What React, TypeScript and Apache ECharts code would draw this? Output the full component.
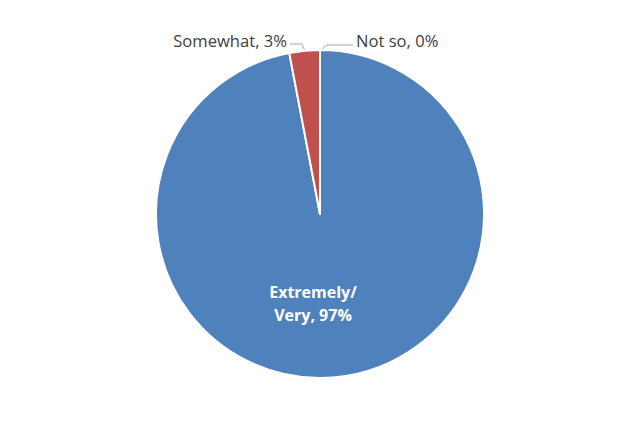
import React, { useEffect, useRef } from "react";
import * as echarts from "echarts";

const categories = ["Extremely/\nVery", "Somewhat", "Not so"];
const values = [97, 3, 0];
const colors = ["#4F81BD", "#C0504D", "#9BBB59"];

export default function App() {
  const ref = useRef<HTMLDivElement>(null);
  useEffect(() => {
    const chart = echarts.init(ref.current!, null, { renderer: "svg" });
    chart.setOption({
      animation: false,
      backgroundColor: "#ffffff",
      series: [
        {
          type: "pie",
          center: [320, 214],
          radius: 164,
          startAngle: 90,
          clockwise: true,
          avoidLabelOverlap: false,
          data: categories.map((name, i) => ({
            name,
            value: values[i],
            itemStyle: { color: colors[i], borderColor: "#ffffff", borderWidth: 2 },
            label:
              i === 0
                ? {
                    position: "inside",
                    color: "#ffffff",
                    fontWeight: "bold",
                    fontSize: 16,
                    lineHeight: 23,
                    formatter: (p: any) => `${p.name}, ${p.value}%`,
                  }
                : {
                    position: "outside",
                    color: "#404040",
                    fontSize: 16.6,
                    formatter: (p: any) => `${p.name}, ${p.value}%`,
                  },
            labelLine: { show: i !== 0, lineStyle: { color: "#A6A6A6", width: 1 } },
          })),
          label: { fontFamily: "Open Sans" },
          labelLayout: (params: any) => {
            if (params.dataIndex === 0) {
              return { x: 313, y: 303, align: "center", verticalAlign: "middle" };
            }
            if (params.dataIndex === 1) {
              return {
                x: 287,
                y: 40,
                align: "right",
                verticalAlign: "middle",
                labelLinePoints: [
                  [305, 51],
                  [302, 44],
                  [290, 44],
                ],
              };
            }
            return {
              x: 356,
              y: 40,
              align: "left",
              verticalAlign: "middle",
              labelLinePoints: [
                [321, 50],
                [327, 45],
                [353, 45],
              ],
            };
          },
        },
      ],
    });
    return () => chart.dispose();
  }, []);
  return <div ref={ref} style={{ width: 639, height: 429, position: "fixed", left: 0, top: 0 }} />;
}
